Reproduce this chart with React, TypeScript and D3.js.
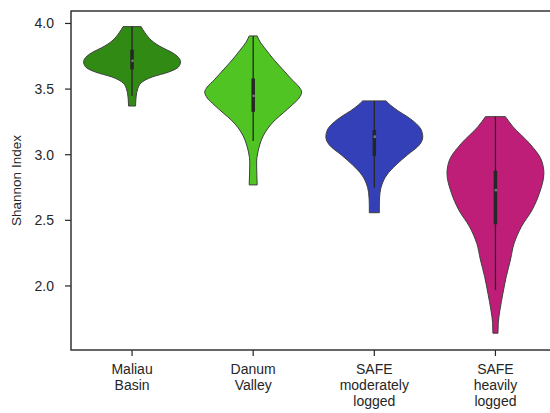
import React from "react";
import * as d3 from "d3";

const categories = ["Maliau Basin", "Danum Valley", "SAFE moderately logged", "SAFE heavily logged"];
const categoryLines = [["Maliau", "Basin"], ["Danum", "Valley"], ["SAFE", "moderately", "logged"], ["SAFE", "heavily", "logged"]];
const colors = ["#308a14", "#50c423", "#3340b8", "#be1e78"];
const yTicks = [2.0, 2.5, 3.0, 3.5, 4.0];

// violin outline profiles: value along y, relative half-width (1 = widest)
const maliauValues = [3.976, 3.928, 3.874, 3.844, 3.813, 3.783, 3.752, 3.707, 3.669, 3.630, 3.592, 3.547, 3.493, 3.417, 3.371];
const maliauDensity = [0.186, 0.268, 0.392, 0.495, 0.639, 0.804, 0.928, 1, 0.959, 0.757, 0.412, 0.186, 0.109, 0.078, 0.072];
const danumValues = [3.905, 3.859, 3.798, 3.722, 3.646, 3.570, 3.516, 3.478, 3.432, 3.379, 3.318, 3.265, 3.204, 3.143, 3.074, 3.013, 2.945, 2.869, 2.770];
const danumDensity = [0.082, 0.144, 0.268, 0.433, 0.619, 0.804, 0.948, 1, 0.948, 0.804, 0.619, 0.454, 0.309, 0.206, 0.134, 0.093, 0.07, 0.074, 0.082];
const safeModValues = [3.410, 3.379, 3.333, 3.295, 3.250, 3.189, 3.135, 3.074, 2.998, 2.922, 2.846, 2.770, 2.693, 2.617, 2.558];
const safeModDensity = [0.241, 0.33, 0.495, 0.66, 0.825, 0.969, 1, 0.928, 0.68, 0.447, 0.258, 0.155, 0.113, 0.103, 0.103];
const safeHeavyValues = [3.290, 3.214, 3.087, 2.960, 2.859, 2.706, 2.579, 2.452, 2.325, 2.198, 2.071, 1.944, 1.817, 1.716, 1.640];
const safeHeavyDensity = [0.206, 0.361, 0.701, 0.948, 1, 0.907, 0.757, 0.536, 0.386, 0.309, 0.223, 0.155, 0.093, 0.058, 0.052];

const whiskerLow = [3.447, 3.104, 2.748, 1.97];
const whiskerHigh = [3.976, 3.905, 3.410, 3.290];
const q1 = [3.65, 3.327, 2.99, 2.47];
const q3 = [3.80, 3.581, 3.188, 2.878];
const medians = [3.715, 3.449, 3.137, 2.73];

const profileValues = [maliauValues, danumValues, safeModValues, safeHeavyValues];
const profileDensity = [maliauDensity, danumDensity, safeModDensity, safeHeavyDensity];

const W = 550, H = 413;
const left = 71, top = 11, bottom = 350, right = 556;
const ink = "#262626";
const font = "'Liberation Sans', Arial, sans-serif";

export default function App() {
  const x = d3.scaleBand<string>().domain(categories).range([left + 0.5, right]).paddingInner(0).paddingOuter(0);
  const y = d3.scaleLinear().domain([1.512, 4.095]).range([bottom, top]);
  const halfMax = x.bandwidth() * 0.4;

  return (
    <svg width={W} height={H} style={{ position: "absolute", left: 0, top: 0, background: "#fff" }}>
      {categories.map((c, i) => {
        const cx = (x(c) as number) + x.bandwidth() / 2;
        const pts = profileValues[i].map((v, k) => ({ v, d: profileDensity[i][k] }));
        const area = d3.area<{ v: number; d: number }>()
          .y(p => y(p.v))
          .x0(p => cx - p.d * halfMax)
          .x1(p => cx + p.d * halfMax)
          .curve(d3.curveMonotoneY);
        return (
          <g key={c}>
            <path d={area(pts) || ""} fill={colors[i]} stroke="#3f3f3f" strokeWidth={1} />
            <line x1={cx} x2={cx} y1={y(whiskerLow[i])} y2={y(whiskerHigh[i])} stroke={ink} strokeWidth={1.3} />
            <line x1={cx} x2={cx} y1={y(q1[i])} y2={y(q3[i])} stroke={ink} strokeWidth={3.5} />
            <circle cx={cx + 0.5} cy={y(medians[i])} r={1.4} fill="#777" />
          </g>
        );
      })}
      {/* spines */}
      <rect x={left} y={top} width={right - left} height={bottom - top} fill="none" stroke={ink} strokeWidth={1.4} />
      {/* y axis */}
      {yTicks.map(t => (
        <g key={t}>
          <line x1={left - 6} x2={left} y1={y(t)} y2={y(t)} stroke={ink} strokeWidth={1.2} />
          <text x={54} y={y(t)} dy="0.35em" textAnchor="end" fontFamily={font} fontSize={14} fill={ink}>{t.toFixed(1)}</text>
        </g>
      ))}
      <text transform={`translate(21,${(top + bottom) / 2}) rotate(-90)`} textAnchor="middle" fontFamily={font} fontSize={13.5} fill={ink}>Shannon Index</text>
      {/* x axis */}
      {categories.map((c, i) => {
        const cx = (x(c) as number) + x.bandwidth() / 2;
        return (
          <g key={c}>
            <line x1={cx} x2={cx} y1={bottom} y2={bottom + 6} stroke={ink} strokeWidth={1.2} />
            <text textAnchor="middle" fontFamily={font} fontSize={14} fill={ink}>
              {categoryLines[i].map((ln, k) => (
                <tspan key={k} x={cx} y={374 + k * 16}>{ln}</tspan>
              ))}
            </text>
          </g>
        );
      })}
    </svg>
  );
}
